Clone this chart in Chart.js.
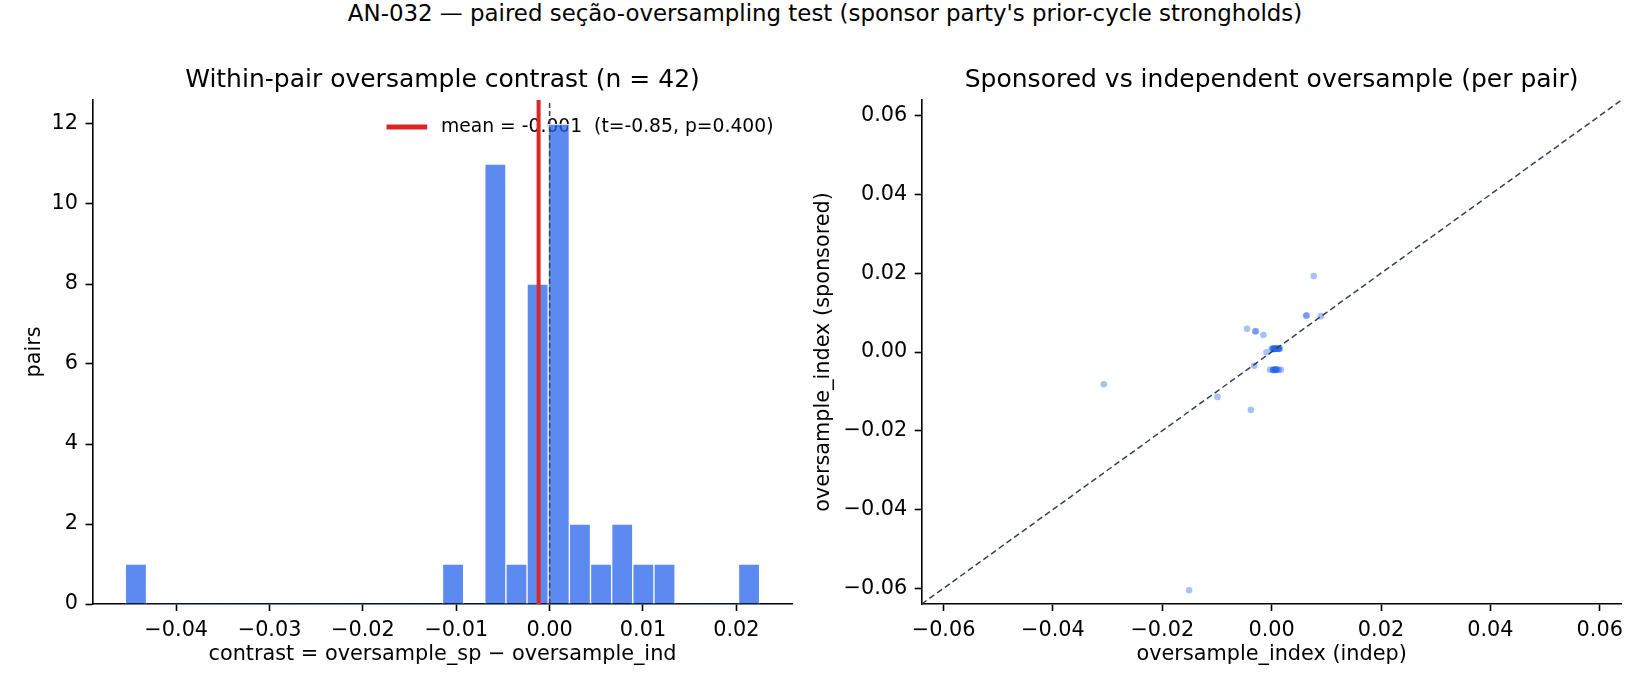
<!DOCTYPE html>
<html>
<head>
<meta charset="utf-8">
<script src="https://cdn.jsdelivr.net/npm/chart.js@4.4.1/dist/chart.umd.min.js"></script>
<style>
  html, body { margin: 0; padding: 0; background: #fff; }
  body { width: 1650px; height: 690px; position: relative; overflow: hidden; font-family: 'DejaVu Sans', sans-serif; }
  #sup { position: absolute; left: 0; top: 0; width: 1650px; text-align: center; font-size: 22.9px; line-height: 26px; color: #000; white-space: nowrap; }
  canvas { position: absolute; top: 0; }
</style>
</head>
<body>
<div id="sup">AN-032 — paired seção-oversampling test (sponsor party's prior-cycle strongholds)</div>
<canvas id="hist" width="820" height="690" style="left:0"></canvas>
<canvas id="scat" width="850" height="690" style="left:800px"></canvas>
<script>
// histogram of contrast = oversample_sp - oversample_ind (30 bins)
const histLo = -0.04545;
const histHi = 0.0225;
const binCounts = [1, 0, 0, 0, 0, 0, 0, 0, 0, 0, 0, 0, 0, 0, 0, 1, 0, 11, 1, 8, 12, 2, 1, 2, 1, 1, 0, 0, 0, 1];
const meanContrast = -0.00118;
const meanLabel = 'mean = -0.001  (t=-0.85, p=0.400)';
const histXTicks = [-0.04, -0.03, -0.02, -0.01, 0, 0.01, 0.02];
const histYTicks = [0, 2, 4, 6, 8, 10, 12];

// per-pair oversample index
const indep = [-0.0151, -0.0307, -0.0038, -0.0099, -0.0032, -0.00095, 0.0090, 0.0064, 0.0063,
  -0.0045, -0.0030, -0.0029, -0.0015, 0.0077,
  0.0000, 0.0002, 0.0003, 0.0004, 0.0005, 0.0006, 0.0006, 0.0007, 0.0008, 0.0003,
  0.0011, 0.0012, 0.0012, 0.0013, 0.0014, 0.0015,
  -0.0003, 0.0002, 0.0003, 0.0004, 0.0005, 0.0006, 0.0007, 0.0008, 0.0009, 0.0010, 0.0013, 0.0017];
const sponsored = [-0.0605, -0.0082, -0.0147, -0.0114, -0.0035, -0.00005, 0.0091, 0.0093, 0.0092,
  0.0059, 0.0052, 0.0053, 0.0043, 0.0193,
  0.0008, 0.0008, 0.0009, 0.0008, 0.0009, 0.0008, 0.0009, 0.0008, 0.0009, 0.0007,
  0.0008, 0.0009, 0.0008, 0.0009, 0.0008, 0.0009,
  -0.0045, -0.0046, -0.0046, -0.0044, -0.0045, -0.0045, -0.0046, -0.0045, -0.0044, -0.0045, -0.0045, -0.0045];
const scatTicks = [-0.06, -0.04, -0.02, 0, 0.02, 0.04, 0.06];
const scatLim = 0.064;

Chart.defaults.font.family = "'DejaVu Sans', sans-serif";
Chart.defaults.color = '#000';
Chart.defaults.animation = false;

const RED = '#dc2626';
const DARK = '#374151';

const fmt = v => Math.abs(v) < 1e-9 ? '0.00' : (v < 0 ? '\u2212' : '') + Math.abs(v).toFixed(2);

function axis(opts) {
  return Object.assign({
    type: 'linear',
    offset: false,
    border: { display: true, color: '#000', width: 1.6 },
    grid: { display: true, drawOnChartArea: false, drawTicks: true, tickLength: 7, tickColor: '#000', tickWidth: 1.6, offset: false },
    ticks: { font: { size: 20.8 }, color: '#000', padding: 7.5, autoSkip: false, maxRotation: 0 }
  }, opts);
}

// legend entry drawn inside the plot, top right
const inlineLegend = {
  id: 'inlineLegend',
  beforeDatasetsDraw(chart, args, opts) {
    if (!opts.show) return;
    const ds = chart.data.datasets[opts.index];
    const a = chart.chartArea;
    const ctx = chart.ctx;
    ctx.save();
    ctx.font = "18.75px 'DejaVu Sans'";
    const tw = ctx.measureText(ds.label).width;
    const xt = a.right - opts.right - tw;
    const y = a.top + opts.top;
    ctx.strokeStyle = ds.borderColor;
    ctx.lineWidth = 5;
    ctx.beginPath();
    ctx.moveTo(xt - opts.gap - opts.handle, y);
    ctx.lineTo(xt - opts.gap, y);
    ctx.stroke();
    ctx.fillStyle = '#000';
    ctx.textBaseline = 'middle';
    ctx.fillText(ds.label, xt, y);
    ctx.restore();
  }
};

const binW = (histHi - histLo) / binCounts.length;
const yTop = 12.6;

new Chart(document.getElementById('hist'), {
  type: 'bar',
  plugins: [inlineLegend],
  data: {
    datasets: [
      { type: 'line', label: meanLabel, data: [{ x: meanContrast, y: 0 }, { x: meanContrast, y: yTop }],
        borderColor: RED, borderWidth: 4, pointRadius: 0, order: 0 },
      { type: 'line', label: 'zero', data: [{ x: 0, y: 0 }, { x: 0, y: yTop }],
        borderColor: DARK, borderWidth: 1.5, borderDash: [5, 3], pointRadius: 0, order: 1 },
      { type: 'bar', label: 'pairs',
        data: binCounts.map((c, i) => ({ x: histLo + (i + 0.5) * binW, y: c })),
        backgroundColor: 'rgba(37,99,235,0.75)', borderColor: '#fff',
        borderWidth: c => (c.raw && c.raw.y > 0 ? 1 : 0),
        barPercentage: 1, categoryPercentage: 1, order: 2 }
    ]
  },
  options: {
    responsive: false,
    layout: { padding: { left: 0, right: 27.5, top: 0, bottom: 0 } },
    plugins: {
      legend: { display: false },
      tooltip: { enabled: false },
      title: { display: true, fullSize: false, text: 'Within-pair oversample contrast (n = 42)',
        font: { size: 25, weight: 'normal' }, color: '#000', padding: { top: 65, bottom: 5 } },
      inlineLegend: { show: true, index: 0, right: 19, top: 27, gap: 13.7, handle: 40.7 }
    },
    scales: {
      x: axis({
        min: -0.04897, max: 0.02602,
        afterBuildTicks: s => { s.ticks = histXTicks.map(v => ({ value: v })); },
        afterFit: s => { s.height = 86; },
        ticks: { font: { size: 20.8 }, color: '#000', padding: 7, autoSkip: false, maxRotation: 0, callback: v => fmt(v) },
        title: { display: true, text: 'contrast = oversample_sp \u2212 oversample_ind', font: { size: 20.8 }, color: '#000', padding: { top: 0, bottom: 23 } }
      }),
      y: axis({
        min: 0, max: yTop,
        afterBuildTicks: s => { s.ticks = histYTicks.map(v => ({ value: v })); },
        afterFit: s => { s.width = 92.5; },
        ticks: { font: { size: 20.8 }, color: '#000', padding: 7.5, autoSkip: false, callback: v => String(v) },
        title: { display: true, text: 'pairs', font: { size: 20.8 }, color: '#000', padding: { top: 22, bottom: 0 } }
      })
    }
  }
});

new Chart(document.getElementById('scat'), {
  type: 'scatter',
  data: {
    datasets: [
      { type: 'line', label: 'y = x', data: [{ x: -scatLim, y: -scatLim }, { x: scatLim, y: scatLim }],
        borderColor: DARK, borderWidth: 1.5, borderDash: [6, 3.5], pointRadius: 0, order: 0 },
      { label: 'pairs', data: indep.map((x, i) => ({ x: x, y: sponsored[i] })),
        backgroundColor: 'rgba(37,99,235,0.4)', borderWidth: 0, pointRadius: 3.3, order: 1 }
    ]
  },
  options: {
    responsive: false,
    layout: { padding: { left: 0, right: 28.4, top: 0, bottom: 0 } },
    plugins: {
      legend: { display: false },
      tooltip: { enabled: false },
      title: { display: true, fullSize: false, text: 'Sponsored vs independent oversample (per pair)',
        font: { size: 25, weight: 'normal' }, color: '#000', padding: { top: 65, bottom: 5 } }
    },
    scales: {
      x: axis({
        min: -scatLim, max: scatLim,
        afterBuildTicks: s => { s.ticks = scatTicks.map(v => ({ value: v })); },
        afterFit: s => { s.height = 86; },
        ticks: { font: { size: 20.8 }, color: '#000', padding: 7, autoSkip: false, maxRotation: 0, callback: v => fmt(v) },
        title: { display: true, text: 'oversample_index (indep)', font: { size: 20.8 }, color: '#000', padding: { top: 0, bottom: 23 } }
      }),
      y: axis({
        min: -scatLim, max: scatLim,
        afterBuildTicks: s => { s.ticks = scatTicks.map(v => ({ value: v })); },
        afterFit: s => { s.width = 121.7; },
        ticks: { font: { size: 20.8 }, color: '#000', padding: 7.5, autoSkip: false, callback: v => fmt(v) },
        title: { display: true, text: 'oversample_index (sponsored)', font: { size: 20.8 }, color: '#000', padding: { top: 11.5, bottom: 0 } }
      })
    }
  }
});
</script>
</body>
</html>
